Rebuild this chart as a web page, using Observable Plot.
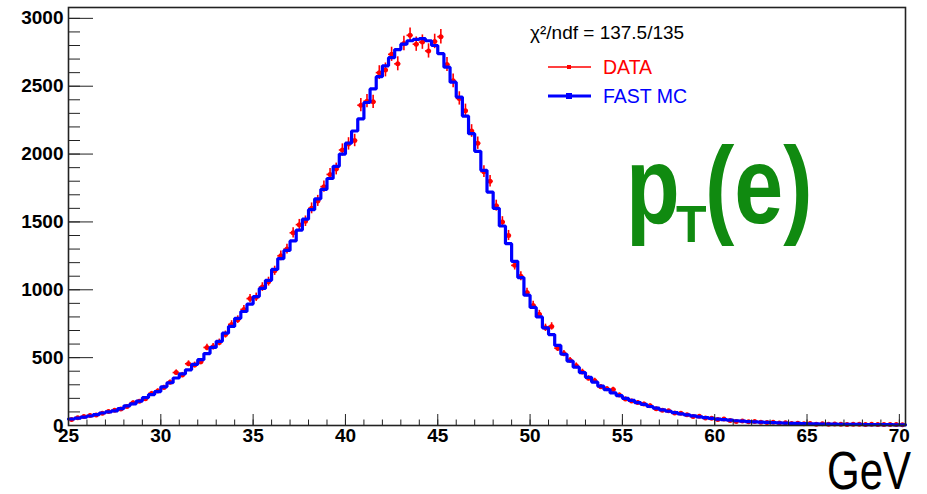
<!DOCTYPE html>
<html><head><meta charset="utf-8">
<script src="https://cdn.jsdelivr.net/npm/d3@7"></script>
<script src="https://cdn.jsdelivr.net/npm/@observablehq/plot@0.6"></script>
<style>
html,body{margin:0;padding:0;background:#fff;}
#chart{width:927px;height:494px;}
svg{display:block;}
</style></head><body><div id="chart"></div>
<script>
// Histogram binning: 136 bins of 1/3 GeV starting at 25 GeV
const binStart = 25;
const binWidth = 1 / 3;

// FAST MC histogram (blue step line), per bin
const mcCounts = [
  48, 55, 62, 70, 80, 92, 100, 108, 125, 145,
  160, 180, 205, 228, 250, 285, 315, 350, 380, 410,
  450, 485, 530, 575, 620, 680, 730, 790, 840, 895,
  950, 1010, 1070, 1150, 1230, 1290, 1360, 1440, 1520, 1590,
  1670, 1740, 1820, 1910, 2000, 2080, 2170, 2260, 2380, 2480,
  2570, 2650, 2710, 2770, 2810, 2835, 2845, 2850, 2835, 2800,
  2740, 2640, 2530, 2420, 2280, 2150, 2020, 1880, 1720, 1600,
  1470, 1340, 1210, 1090, 960, 870, 800, 720, 670, 590,
  525, 475, 430, 390, 355, 320, 290, 265, 240, 220,
  200, 185, 168, 155, 140, 128, 115, 105, 95, 86,
  78, 71, 64, 58, 52, 47, 43, 39, 35, 32,
  29, 27, 25, 23, 21, 19, 17, 16, 15, 14,
  13, 12, 11, 10, 10, 9, 9, 8, 8, 7,
  7, 6, 6, 6, 5, 5
];

// DATA histogram (red points with errors), per bin
const dataCounts = [
  45, 58, 66, 74, 78, 90, 104, 112, 122, 140,
  168, 178, 198, 236, 254, 280, 318, 390, 372, 455,
  446, 470, 575, 580, 612, 670, 745, 780, 855, 935,
  945, 1020, 1060, 1140, 1250, 1300, 1420, 1480, 1505, 1600,
  1655, 1760, 1850, 1890, 2030, 2075, 2100, 2360, 2390, 2385,
  2600, 2620, 2735, 2665, 2815, 2875, 2810, 2825, 2760, 2830,
  2865, 2660, 2540, 2410, 2320, 2170, 2080, 1870, 1800, 1620,
  1500, 1400, 1180, 1100, 980, 885, 820, 720, 730, 570,
  530, 480, 440, 395, 348, 330, 285, 270, 265, 224,
  196, 180, 170, 158, 146, 124, 112, 108, 92, 90,
  80, 66, 68, 55, 54, 45, 48, 36, 30, 34,
  28, 30, 24, 22, 24, 18, 20, 14, 16, 12,
  14, 10, 13, 9, 11, 10, 8, 10, 9, 8,
  9, 7, 8, 7, 8, 6
];

const xMajorTicks = [25, 30, 35, 40, 45, 50, 55, 60, 65, 70];
const xMinorTicks = d3.range(25, 71, 1);
const yMajorTicks = [0, 500, 1000, 1500, 2000, 2500, 3000];
const yMinorTicks = d3.range(0, 3001, 100);

const legendLabels = ["DATA", "FAST MC"];
const legendColors = ["#ff0000", "#0000ff"];
const fitText = "χ²/ndf = 137.5/135";
const unitText = "GeV";

const bins = mcCounts.map((m, i) => ({
  lo: binStart + i * binWidth,
  hi: binStart + (i + 1) * binWidth,
  mid: binStart + (i + 0.5) * binWidth,
  mc: m,
  data: dataCounts[i],
  err: Math.sqrt(dataCounts[i])
}));
const steps = bins.flatMap(b => [{x: b.lo, y: b.mc}, {x: b.hi, y: b.mc}]);

const font = "'Liberation Sans', Arial, Helvetica, sans-serif";
const axisColor = "#222";

const svg = Plot.plot({
  width: 927,
  height: 494,
  marginLeft: 68,
  marginRight: 22,
  marginTop: 7,
  marginBottom: 69,
  x: {domain: [25, binStart + mcCounts.length * binWidth]},
  y: {domain: [0, 3080]},
  style: {fontFamily: font, background: "white", color: "black"},
  marks: [
    Plot.ruleX(bins, {x: "mid", y1: d => d.data - d.err, y2: d => d.data + d.err, stroke: "#ff0000", strokeWidth: 1.6}),
    Plot.ruleY(bins, {y: "data", x1: "lo", x2: "hi", stroke: "#ff0000", strokeWidth: 1.6}),
    Plot.dot(bins, {x: "mid", y: "data", r: 2.5, fill: "#ff0000", stroke: "none"}),
    Plot.line(steps, {x: "x", y: "y", stroke: "#0000ff", strokeWidth: 3.2, strokeLinejoin: "miter"}),
    Plot.axisX(xMinorTicks, {anchor: "bottom", tickSize: -5.5, tickFormat: () => "", label: null, stroke: axisColor}),
    Plot.axisX(xMajorTicks, {anchor: "bottom", tickSize: -11, tickFormat: () => "", label: null, stroke: axisColor}),
    Plot.axisX(xMajorTicks, {anchor: "bottom", tickSize: 0, tickPadding: 3, tickFormat: d => String(d), fontSize: 19, fontWeight: "bold", label: null, fill: "black"}),
    Plot.axisY(yMinorTicks, {anchor: "left", tickSize: -12, tickFormat: () => "", label: null, stroke: axisColor}),
    Plot.axisY(yMajorTicks, {anchor: "left", tickSize: -25, tickFormat: () => "", label: null, stroke: axisColor}),
    Plot.axisY(yMajorTicks, {anchor: "left", tickSize: 0, tickPadding: 5, tickFormat: d => String(d), fontSize: 19, fontWeight: "bold", label: null, fill: "black"}),
    Plot.frame({stroke: axisColor, strokeWidth: 1.6})
  ]
});
document.getElementById("chart").appendChild(svg);

// Annotations and legend
const s = d3.select(svg);
const g = s.append("g").attr("font-family", font).attr("text-anchor", "start");
g.append("text").attr("x", 530).attr("y", 39).attr("font-size", 19).attr("fill", "black").text(fitText);

const legendY = [67, 96];
legendLabels.forEach((lab, i) => {
  const y = legendY[i];
  g.append("line").attr("x1", 548).attr("x2", 591).attr("y1", y).attr("y2", y)
    .attr("stroke", legendColors[i]).attr("stroke-width", i === 0 ? 1.6 : 3.2);
  const sz = i === 0 ? 4 : 6;
  g.append("rect").attr("x", 569 - sz / 2).attr("y", y - sz / 2).attr("width", sz).attr("height", sz)
    .attr("fill", legendColors[i]);
  g.append("text").attr("x", 603).attr("y", y + 7).attr("font-size", 19.5).attr("fill", legendColors[i]).text(lab);
});

// big green label p_T(e)
const green = "#108a10";
g.append("text").attr("transform", "translate(626,223) scale(1,1.25)")
  .attr("font-size", 88).attr("font-weight", "bold").attr("fill", green).text("p");
g.append("text").attr("transform", "translate(676,242) scale(1,1.05)")
  .attr("font-size", 50).attr("font-weight", "bold").attr("fill", green).text("T");
g.append("text").attr("transform", "translate(705,223) scale(1,1.25)")
  .attr("font-size", 88).attr("font-weight", "bold").attr("fill", green).text("(e)");

// unit label
g.append("text").attr("transform", "translate(911,489) scale(1,1.27)")
  .attr("text-anchor", "end").attr("font-size", 42).attr("fill", "black").text(unitText);
</script>
</body></html>
